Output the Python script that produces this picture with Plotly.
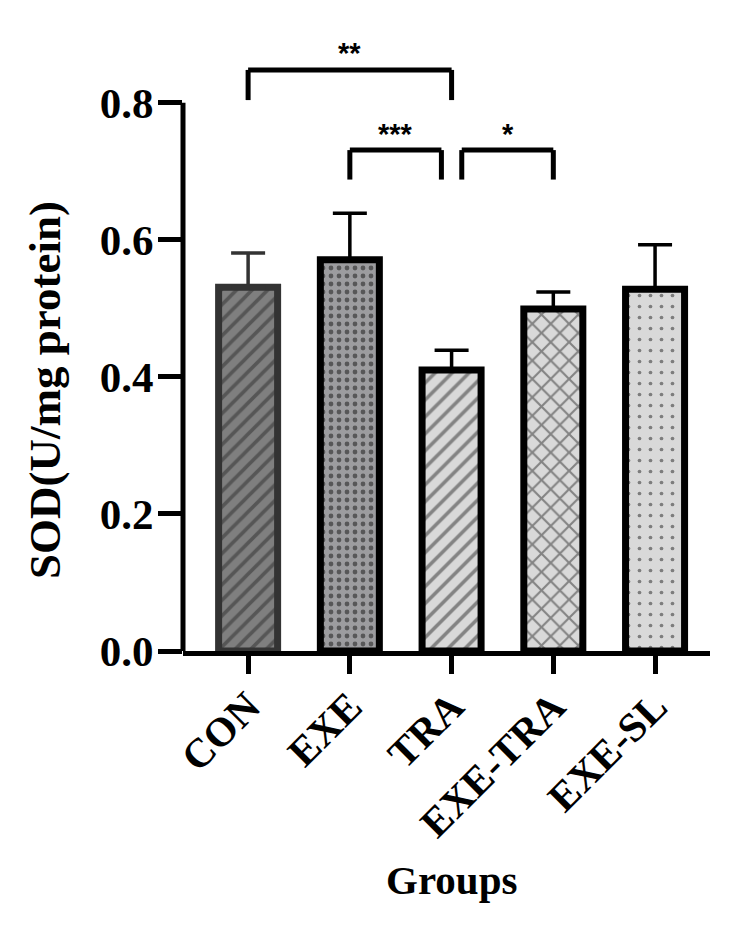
import plotly.graph_objects as go

categories = ["CON", "EXE", "TRA", "EXE-TRA", "EXE-SL"]
means = [0.531, 0.571, 0.410, 0.499, 0.528]
err_upper = [0.050, 0.068, 0.029, 0.025, 0.065]
y_ticks = [0.0, 0.2, 0.4, 0.6, 0.8]

# significance brackets
sig_x0 = [0, 1, 2.1]
sig_x1 = [2, 1.9, 3]
sig_low = [0.804, 0.688, 0.688]
sig_top = [0.848, 0.731, 0.731]
sig_labels = ["**", "***", "*"]
sig_label_y = [0.872, 0.755, 0.755]

fills = ["#7f7f7f", "#9c9c9f", "#d9d9d9", "#d9d9d9", "#d9d9d9"]
borders = ["#333333", "#000000", "#000000", "#000000", "#000000"]
shapes_p = ["/", ".", "/", "x", "."]
pat_fg = ["#2e2e2e", "#111111", "#2e2e2e", "#2e2e2e", "#222222"]
pat_size = [11, 8, 12, 13, 11]
pat_sol = [0.33, 0.28, 0.3, 0.3, 0.09]

xs = list(range(len(categories)))
FONT = "Liberation Serif"

fig = go.Figure()
for i, c in enumerate(categories):
    fig.add_trace(go.Bar(
        x=[xs[i]], y=[means[i]], width=0.58, name=c,
        marker=dict(color=fills[i], line=dict(color=borders[i], width=7),
                    pattern=dict(shape=shapes_p[i], fgcolor=pat_fg[i], bgcolor=fills[i],
                                 size=pat_size[i], solidity=pat_sol[i], fillmode="overlay")),
        error_y=dict(type="data", symmetric=False, array=[err_upper[i]], arrayminus=[0],
                     color=borders[i], thickness=3.5, width=17),
        showlegend=False,
    ))

shapes = []
shapes.append(dict(type="line", xref="paper", yref="y", x0=0, x1=0, y0=0, y1=y_ticks[-1],
                   line=dict(color="black", width=5)))
annotations = []
for a, b, lo, hi, lab, ly in zip(sig_x0, sig_x1, sig_low, sig_top, sig_labels, sig_label_y):
    for (x0, y0, x1, y1) in [(a, lo, a, hi), (a, hi, b, hi), (b, hi, b, lo)]:
        shapes.append(dict(type="line", xref="x", yref="y", x0=x0, x1=x1, y0=y0, y1=y1,
                           line=dict(color="black", width=5)))
    annotations.append(dict(x=(a + b) / 2, y=ly, xref="x", yref="y", text=lab, showarrow=False,
                            xanchor="center", yanchor="middle",
                            font=dict(family="Liberation Sans", size=29, color="black", weight="bold")))

annotations.append(dict(x=0, xref="paper", y=0.381, yref="y", xshift=-138, text="SOD(U/mg protein)",
                        textangle=-90, showarrow=False, xanchor="center", yanchor="middle",
                        font=dict(family=FONT, size=45, color="black", weight="bold")))
annotations.append(dict(x=2.0, xref="x", y=0, yref="paper", yshift=-229, text="Groups",
                        showarrow=False, xanchor="center", yanchor="middle",
                        font=dict(family=FONT, size=41, color="black", weight="bold")))

fig.update_layout(
    width=750, height=940,
    margin=dict(l=183, r=40, t=48, b=289, autoexpand=False),
    plot_bgcolor="white", paper_bgcolor="white",
    barmode="overlay",
    shapes=shapes, annotations=annotations,
    xaxis=dict(range=[-0.64, 4.54], tickvals=xs, ticktext=categories, tickangle=-45,
               showline=True, linecolor="black", linewidth=5, ticks="outside", ticklen=18,
               tickwidth=5, tickcolor="black", showgrid=False, zeroline=False, automargin=False,
               ticklabelstandoff=-8,
               tickfont=dict(family=FONT, size=41, color="black", weight="bold")),
    yaxis=dict(range=[0, 0.88], tickvals=y_ticks, ticktext=[f"{v:.1f}" for v in y_ticks],
               showline=False, ticks="outside", ticklen=24, tickwidth=5, tickcolor="black",
               showgrid=False, zeroline=False, automargin=False, ticklabelstandoff=-4,
               tickfont=dict(family=FONT, size=43, color="black", weight="bold")),
)

fig.write_html("out.html")
